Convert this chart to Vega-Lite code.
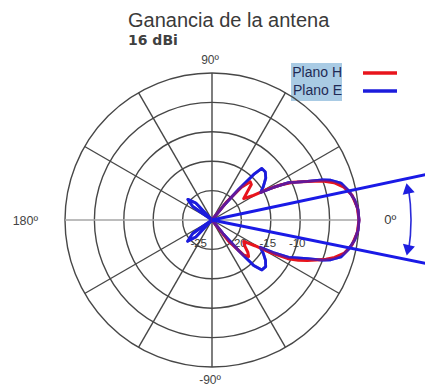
{
  "$schema": "https://vega.github.io/schema/vega-lite/v6.json",
  "width": 294,
  "height": 294,
  "autosize": "none",
  "padding": {"left": 65, "top": 73, "right": 66, "bottom": 21},
  "background": "white",
  "config": {"view": {"stroke": null}, "font": "Liberation Sans"},
  "title": {
    "text": "Ganancia de la antena",
    "subtitle": "16 dBi",
    "anchor": "start",
    "frame": "group",
    "dx": 63,
    "offset": 6,
    "font": "Liberation Sans",
    "fontSize": 20,
    "fontWeight": "normal",
    "color": "#3a3a3a",
    "subtitleFont": "DejaVu Sans",
    "subtitleFontSize": 14,
    "subtitleFontWeight": "bold",
    "subtitleColor": "#404040",
    "subtitlePadding": 3
  },
  "datasets": {
    "pattern": [
      {"plane": "Plano H", "angle": -180, "gain": -25},
      {"plane": "Plano H", "angle": -56, "gain": -25},
      {"plane": "Plano H", "angle": -52, "gain": -20.5},
      {"plane": "Plano H", "angle": -48, "gain": -17},
      {"plane": "Plano H", "angle": -45, "gain": -16.2},
      {"plane": "Plano H", "angle": -42, "gain": -16.8},
      {"plane": "Plano H", "angle": -38, "gain": -18},
      {"plane": "Plano H", "angle": -34, "gain": -18.5},
      {"plane": "Plano H", "angle": -31, "gain": -16.5},
      {"plane": "Plano H", "angle": -29, "gain": -13.5},
      {"plane": "Plano H", "angle": -27, "gain": -10.5},
      {"plane": "Plano H", "angle": -25, "gain": -8.8},
      {"plane": "Plano H", "angle": -23, "gain": -7.4},
      {"plane": "Plano H", "angle": -21, "gain": -6.0},
      {"plane": "Plano H", "angle": -19, "gain": -4.5},
      {"plane": "Plano H", "angle": -17, "gain": -3.2},
      {"plane": "Plano H", "angle": -14, "gain": -1.8},
      {"plane": "Plano H", "angle": -10, "gain": -0.8},
      {"plane": "Plano H", "angle": -5, "gain": -0.2},
      {"plane": "Plano H", "angle": 0, "gain": 0},
      {"plane": "Plano H", "angle": 5, "gain": -0.2},
      {"plane": "Plano H", "angle": 10, "gain": -0.8},
      {"plane": "Plano H", "angle": 14, "gain": -1.9},
      {"plane": "Plano H", "angle": 17, "gain": -3.3},
      {"plane": "Plano H", "angle": 19, "gain": -4.8},
      {"plane": "Plano H", "angle": 21, "gain": -6.6},
      {"plane": "Plano H", "angle": 23, "gain": -8.3},
      {"plane": "Plano H", "angle": 25, "gain": -9.8},
      {"plane": "Plano H", "angle": 27, "gain": -11.8},
      {"plane": "Plano H", "angle": 29, "gain": -14.3},
      {"plane": "Plano H", "angle": 31, "gain": -17},
      {"plane": "Plano H", "angle": 34, "gain": -18.5},
      {"plane": "Plano H", "angle": 38, "gain": -17.5},
      {"plane": "Plano H", "angle": 42, "gain": -16},
      {"plane": "Plano H", "angle": 45, "gain": -15.8},
      {"plane": "Plano H", "angle": 48, "gain": -17.5},
      {"plane": "Plano H", "angle": 51, "gain": -21},
      {"plane": "Plano H", "angle": 54, "gain": -25},
      {"plane": "Plano H", "angle": 180, "gain": -25},
      {"plane": "Plano E", "angle": -180, "gain": -25},
      {"plane": "Plano E", "angle": -146.5, "gain": -25},
      {"plane": "Plano E", "angle": -145, "gain": -21},
      {"plane": "Plano E", "angle": -139, "gain": -19.5},
      {"plane": "Plano E", "angle": -133.5, "gain": -21},
      {"plane": "Plano E", "angle": -132, "gain": -25},
      {"plane": "Plano E", "angle": -53, "gain": -25},
      {"plane": "Plano E", "angle": -51, "gain": -22},
      {"plane": "Plano E", "angle": -49, "gain": -18},
      {"plane": "Plano E", "angle": -47.5, "gain": -14.5},
      {"plane": "Plano E", "angle": -45, "gain": -13},
      {"plane": "Plano E", "angle": -41, "gain": -12.9},
      {"plane": "Plano E", "angle": -37, "gain": -13.6},
      {"plane": "Plano E", "angle": -33, "gain": -14.6},
      {"plane": "Plano E", "angle": -29.5, "gain": -15.6},
      {"plane": "Plano E", "angle": -28, "gain": -13.2},
      {"plane": "Plano E", "angle": -26, "gain": -10.5},
      {"plane": "Plano E", "angle": -24, "gain": -9.2},
      {"plane": "Plano E", "angle": -22, "gain": -7.5},
      {"plane": "Plano E", "angle": -20, "gain": -5},
      {"plane": "Plano E", "angle": -18.5, "gain": -3.7},
      {"plane": "Plano E", "angle": -16, "gain": -2.2},
      {"plane": "Plano E", "angle": -12, "gain": -1.2},
      {"plane": "Plano E", "angle": -8, "gain": -0.5},
      {"plane": "Plano E", "angle": -4, "gain": -0.1},
      {"plane": "Plano E", "angle": 0, "gain": 0},
      {"plane": "Plano E", "angle": 4, "gain": -0.1},
      {"plane": "Plano E", "angle": 8, "gain": -0.5},
      {"plane": "Plano E", "angle": 12, "gain": -1.2},
      {"plane": "Plano E", "angle": 16, "gain": -2.2},
      {"plane": "Plano E", "angle": 18.5, "gain": -3.7},
      {"plane": "Plano E", "angle": 20, "gain": -5},
      {"plane": "Plano E", "angle": 22, "gain": -7.5},
      {"plane": "Plano E", "angle": 24, "gain": -9.2},
      {"plane": "Plano E", "angle": 26, "gain": -10.5},
      {"plane": "Plano E", "angle": 28, "gain": -13.2},
      {"plane": "Plano E", "angle": 29.5, "gain": -15.5},
      {"plane": "Plano E", "angle": 33, "gain": -14.6},
      {"plane": "Plano E", "angle": 38, "gain": -13.4},
      {"plane": "Plano E", "angle": 42, "gain": -12.8},
      {"plane": "Plano E", "angle": 46, "gain": -12.8},
      {"plane": "Plano E", "angle": 47.5, "gain": -14.5},
      {"plane": "Plano E", "angle": 49, "gain": -18},
      {"plane": "Plano E", "angle": 51, "gain": -22},
      {"plane": "Plano E", "angle": 53, "gain": -25},
      {"plane": "Plano E", "angle": 132, "gain": -25},
      {"plane": "Plano E", "angle": 133.5, "gain": -21},
      {"plane": "Plano E", "angle": 139.5, "gain": -19.6},
      {"plane": "Plano E", "angle": 145, "gain": -21},
      {"plane": "Plano E", "angle": 146.5, "gain": -25},
      {"plane": "Plano E", "angle": 180, "gain": -25}
    ],
    "rings": [{"level": -20}, {"level": -15}, {"level": -10}, {"level": -5}, {"level": 0}],
    "spokes": [{"angle": 30}, {"angle": 60}, {"angle": 90}, {"angle": 120}, {"angle": 150}],
    "ringLabels": [
      {"level": -20, "label": "-20"},
      {"level": -15, "label": "-15"},
      {"level": -10, "label": "-10"}
    ],
    "beam": [{"angle": 12}, {"angle": -11.5}]
  },
  "layer": [
    {
      "data": {"values": [{}]},
      "mark": {"type": "rect", "color": "#a9cbe4"},
      "encoding": {
        "x": {"datum": 13.44, "type": "quantitative", "scale": {"domain": [-25, 25], "nice": false, "zero": false}, "axis": null},
        "x2": {"datum": 22.11},
        "y": {"datum": 26.7, "type": "quantitative", "scale": {"domain": [-25, 25], "nice": false, "zero": false}, "axis": null},
        "y2": {"datum": 20.24}
      }
    },
    {
      "data": {"name": "rings"},
      "transform": [{"calculate": "datum.level + 25", "as": "u"}],
      "mark": {"type": "point", "shape": "circle", "filled": false, "color": "#474747", "strokeWidth": 1.4, "opacity": 1},
      "encoding": {
        "x": {"datum": 0, "type": "quantitative"},
        "y": {"datum": 0, "type": "quantitative"},
        "size": {"field": "u", "type": "quantitative", "scale": {"type": "pow", "exponent": 2, "domain": [0, 25], "range": [0, 86436]}, "legend": null}
      }
    },
    {
      "data": {"name": "spokes"},
      "transform": [
        {"calculate": "25 * cos(datum.angle * PI / 180)", "as": "sx"},
        {"calculate": "25 * sin(datum.angle * PI / 180)", "as": "sy"},
        {"calculate": "-datum.sx", "as": "ex"},
        {"calculate": "-datum.sy", "as": "ey"}
      ],
      "mark": {"type": "rule", "color": "#474747", "strokeWidth": 1.4},
      "encoding": {
        "x": {"field": "sx", "type": "quantitative"},
        "y": {"field": "sy", "type": "quantitative"},
        "x2": {"field": "ex"},
        "y2": {"field": "ey"}
      }
    },
    {
      "data": {"values": [{"angle": 0}]},
      "transform": [
        {"calculate": "25 * cos(datum.angle * PI / 180)", "as": "sx"},
        {"calculate": "25 * sin(datum.angle * PI / 180)", "as": "sy"},
        {"calculate": "-datum.sx", "as": "ex"},
        {"calculate": "-datum.sy", "as": "ey"}
      ],
      "mark": {"type": "rule", "color": "#a6a6a6", "strokeWidth": 1.6},
      "encoding": {
        "x": {"field": "sx", "type": "quantitative"},
        "y": {"field": "sy", "type": "quantitative"},
        "x2": {"field": "ex"},
        "y2": {"field": "ey"}
      }
    },
    {
      "data": {"name": "ringLabels"},
      "transform": [{"calculate": "datum.level + 25", "as": "u"}],
      "mark": {"type": "text", "fontSize": 11.5, "color": "#3a3a3a", "dx": -3, "baseline": "middle"},
      "encoding": {
        "x": {"field": "u", "type": "quantitative"},
        "y": {"datum": -4.1, "type": "quantitative"},
        "text": {"field": "label"}
      }
    },
    {
      "data": {"values": [{"level": -25, "label": "-25"}]},
      "transform": [{"calculate": "datum.level + 25", "as": "u"}],
      "mark": {"type": "text", "fontSize": 11.5, "color": "#3a3a3a", "align": "right", "dx": -5, "baseline": "middle"},
      "encoding": {
        "x": {"field": "u", "type": "quantitative"},
        "y": {"datum": -4.1, "type": "quantitative"},
        "text": {"field": "label"}
      }
    },
    {
      "data": {"name": "pattern"},
      "transform": [
        {"filter": "datum.plane === 'Plano E'"},
        {"calculate": "max(datum.gain + 25, 0) * cos(datum.angle * PI / 180)", "as": "px"},
        {"calculate": "max(datum.gain + 25, 0) * sin(datum.angle * PI / 180)", "as": "py"}
      ],
      "mark": {"type": "line", "strokeWidth": 2.8, "strokeJoin": "round"},
      "encoding": {
        "x": {"field": "px", "type": "quantitative"},
        "y": {"field": "py", "type": "quantitative"},
        "order": {"field": "angle", "type": "quantitative"},
        "color": {"field": "plane", "type": "nominal"}
      }
    },
    {
      "data": {"name": "pattern"},
      "transform": [
        {"filter": "datum.plane === 'Plano H'"},
        {"calculate": "max(datum.gain + 25, 0) * cos(datum.angle * PI / 180)", "as": "px"},
        {"calculate": "max(datum.gain + 25, 0) * sin(datum.angle * PI / 180)", "as": "py"}
      ],
      "mark": {"type": "line", "strokeWidth": 3, "strokeJoin": "round"},
      "encoding": {
        "x": {"field": "px", "type": "quantitative"},
        "y": {"field": "py", "type": "quantitative"},
        "order": {"field": "angle", "type": "quantitative"},
        "color": {
          "field": "plane",
          "type": "nominal",
          "scale": {"domain": ["Plano H", "Plano E"], "range": ["#e8141c", "#1c1cdc"]},
          "legend": {
            "title": null,
            "orient": "none",
            "legendX": 304.5,
            "legendY": -10.5,
            "symbolType": "M-2,0H2",
            "symbolSize": 289,
            "symbolStrokeWidth": 3.5,
            "labelAlign": "right",
            "labelOffset": -48.5,
            "labelFont": "Liberation Sans",
            "labelFontSize": 14,
            "labelColor": "#1f2a55",
            "rowPadding": 0,
            "padding": 0,
            "encode": {
              "symbols": {"update": {"opacity": {"value": 1}}}
            }
          }
        }
      }
    },
    {
      "data": {"name": "pattern"},
      "transform": [
        {"filter": "datum.plane === 'Plano E'"},
        {"calculate": "max(datum.gain + 25, 0) * cos(datum.angle * PI / 180)", "as": "px"},
        {"calculate": "max(datum.gain + 25, 0) * sin(datum.angle * PI / 180)", "as": "py"}
      ],
      "mark": {"type": "line", "strokeWidth": 2.8, "strokeJoin": "round", "opacity": 0.66},
      "encoding": {
        "x": {"field": "px", "type": "quantitative"},
        "y": {"field": "py", "type": "quantitative"},
        "order": {"field": "angle", "type": "quantitative"},
        "color": {"field": "plane", "type": "nominal"}
      }
    },
    {
      "data": {"name": "beam"},
      "transform": [
        {"calculate": "0", "as": "ox"},
        {"calculate": "0", "as": "oy"},
        {"calculate": "40 * cos(datum.angle * PI / 180)", "as": "bx"},
        {"calculate": "40 * sin(datum.angle * PI / 180)", "as": "by"}
      ],
      "mark": {"type": "rule", "color": "#1a1ae6", "strokeWidth": 3},
      "encoding": {
        "x": {"field": "ox", "type": "quantitative"},
        "y": {"field": "oy", "type": "quantitative"},
        "x2": {"field": "bx"},
        "y2": {"field": "by"}
      }
    },
    {
      "data": {"values": [{}]},
      "mark": {"type": "point", "shape": "M0.9877,0.1564A1,1,0,0,0,0.9877,-0.1564", "filled": false, "size": 158404, "color": "#2a2ad8", "strokeWidth": 1.6, "opacity": 1},
      "encoding": {
        "x": {"datum": 0, "type": "quantitative"},
        "y": {"datum": 0, "type": "quantitative"}
      }
    },
    {
      "data": {"values": [{"angle": 9.2}]},
      "transform": [
        {"calculate": "33.7 * cos(datum.angle * PI / 180)", "as": "ax"},
        {"calculate": "33.7 * sin(datum.angle * PI / 180)", "as": "ay"}
      ],
      "mark": {"type": "point", "shape": "triangle-up", "filled": true, "size": 150, "color": "#1e1ee0", "opacity": 1, "angle": -12},
      "encoding": {
        "x": {"field": "ax", "type": "quantitative"},
        "y": {"field": "ay", "type": "quantitative"}
      }
    },
    {
      "data": {"values": [{"angle": -8.8}]},
      "transform": [
        {"calculate": "33.7 * cos(datum.angle * PI / 180)", "as": "ax"},
        {"calculate": "33.7 * sin(datum.angle * PI / 180)", "as": "ay"}
      ],
      "mark": {"type": "point", "shape": "triangle-down", "filled": true, "size": 150, "color": "#1e1ee0", "opacity": 1, "angle": 12},
      "encoding": {
        "x": {"field": "ax", "type": "quantitative"},
        "y": {"field": "ay", "type": "quantitative"}
      }
    },
    {
      "data": {"values": [{"label": "0º"}]},
      "mark": {"type": "text", "fontSize": 13, "color": "#3a3a3a", "align": "left", "baseline": "middle"},
      "encoding": {
        "x": {"datum": 29.3, "type": "quantitative"},
        "y": {"datum": 0, "type": "quantitative"},
        "text": {"field": "label"}
      }
    },
    {
      "data": {"values": [{"angle": 90, "label": "90º"}, {"angle": -90, "label": "-90º"}]},
      "transform": [
        {"calculate": "27.2 * cos(datum.angle * PI / 180)", "as": "lx"},
        {"calculate": "27.2 * sin(datum.angle * PI / 180)", "as": "ly"}
      ],
      "mark": {"type": "text", "fontSize": 12, "color": "#444444", "align": "center", "baseline": "middle", "dx": -2},
      "encoding": {
        "x": {"field": "lx", "type": "quantitative"},
        "y": {"field": "ly", "type": "quantitative"},
        "text": {"field": "label"}
      }
    },
    {
      "data": {"values": [{"angle": 180, "label": "180º"}]},
      "transform": [
        {"calculate": "27.2 * cos(datum.angle * PI / 180)", "as": "lx"},
        {"calculate": "27.2 * sin(datum.angle * PI / 180)", "as": "ly"}
      ],
      "mark": {"type": "text", "fontSize": 12.5, "color": "#444444", "align": "right", "baseline": "middle", "dx": -14, "dy": 1},
      "encoding": {
        "x": {"field": "lx", "type": "quantitative"},
        "y": {"field": "ly", "type": "quantitative"},
        "text": {"field": "label"}
      }
    }
  ]
}
